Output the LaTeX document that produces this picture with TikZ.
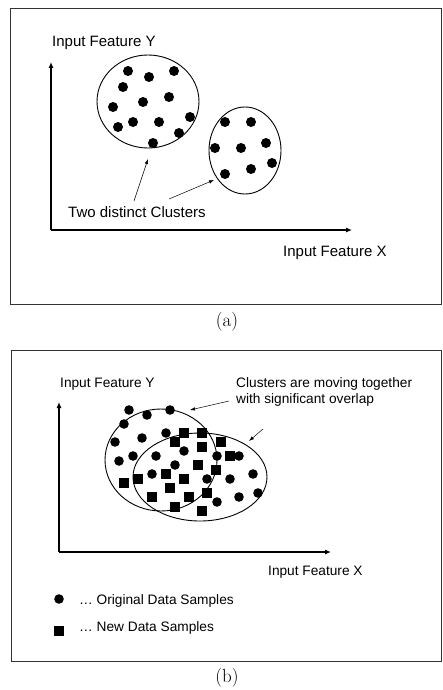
\documentclass[tikz,border=0pt]{standalone}
\usepackage{fontspec}
\setmainfont{Liberation Sans}
\newfontfamily\capfont{Latin Modern Roman}
\usetikzlibrary{arrows.meta}
\begin{document}
\begin{tikzpicture}[x=1pt,y=-1pt,
  frame/.style={draw=black!80,line width=1pt},
  axis/.style={line width=1.1pt,-{Latex[length=6pt,width=5pt]}},
  note/.style={line width=0.5pt,-{Latex[length=5pt,width=3.5pt]}},
  clus/.style={draw,line width=0.9pt},
  dotA/.style={fill=black},
  txtA/.style={font=\fontsize{15}{17}\selectfont,inner sep=0pt},
  txtB/.style={font=\fontsize{13.7}{16}\selectfont,inner sep=0pt},
  capt/.style={font=\capfont\fontsize{19}{22}\selectfont,inner sep=0pt}]
\useasboundingbox (0,0) rectangle (442,690);
% ---------- panel (a)
\draw[frame] (10,9) rectangle (441,304);
\node[capt] (capa) at (227,322) {(a)};
\coordinate (oa) at (51,230);
\coordinate (ya) at (51,62);
\coordinate (xa) at (352,230);
\draw[axis] (oa) -- (ya);
\draw[axis] (oa) -- (xa);
\node[txtA,anchor=west] (lya) at (52,43) {Input Feature Y};
\node[txtA,anchor=west] (lxa) at (283,253) {Input Feature X};
\draw[clus] (148,101.5) ellipse [x radius=51,y radius=46.5];
\draw[clus] (245,150.5) ellipse [x radius=36,y radius=43.5];
\foreach \p in {(128,71),(149,77),(174,71),(123,87),(169,97),(143,102),(113,107),(190,117),(133,122),(159,122),(118,127),(179,133),(153,143),
                (225,122),(251,122),(266,143),(215,148),(241,148),(272,163),(225,174),(251,169)}
  \fill[dotA] \p circle (5);
\node[txtA,anchor=west] (two) at (68,212) {Two distinct Clusters};
\coordinate (a1s) at (134,201);
\coordinate (a1e) at (148,159);
\coordinate (a2s) at (169,199);
\coordinate (a2e) at (214,180);
\draw[note] (a1s) -- (a1e);
\draw[note] (a2s) -- (a2e);
% ---------- panel (b)
\draw[frame] (11,350) rectangle (441,661);
\node[capt] (capb) at (227,678) {(b)};
\coordinate (ob) at (59,552);
\coordinate (yb) at (59,402);
\coordinate (xb) at (331,552);
\draw[axis] (ob) -- (yb);
\draw[axis] (ob) -- (xb);
\node[txtB,anchor=west] (lyb) at (60,384) {Input Feature Y};
\node[txtB,anchor=west] (lxb) at (268,572) {Input Feature X};
\node[txtB,anchor=north west,align=left] (mov) at (236,377) {Clusters are moving together\\with significant overlap};
\draw[clus] (161,460) ellipse [x radius=56,y radius=51];
\draw[clus] (200,477) ellipse [x radius=67,y radius=44];
\foreach \p in {(129,410),(147,415),(170,410),(124,424),(115,442),(142,438),(166,433),(119,461),(133,456),(184,451),(156,456),(175,465),(217,456),(239,456),(152,474),(207,479),(230,479),(253,474),(217,502),(239,497),(258,493)}
  \fill[dotA] \p circle (4.8);
\foreach \x/\y in {184/433,202/433,175/442,202/447,221/442,230/456,198/465,216/470,166/474,184/479,138/479,124/483,170/488,207/493,152/497,189/497,175/507,202/511}
  \fill[dotA] (\x-4.7,\y-4.7) rectangle (\x+4.7,\y+4.7);
\coordinate (b1s) at (229,401);
\coordinate (b1e) at (190,410);
\coordinate (b2s) at (263,429);
\coordinate (b2e) at (249,441);
\draw[note] (b1s) -- (b1e);
\draw[note] (b2s) -- (b2e);
% legend
\fill[dotA] (59,599) circle (4.8);
\fill[dotA] (54.3,626.3) rectangle (63.7,635.7);
\node[txtB,anchor=west] (lg1) at (79,601) {… Original Data Samples};
\node[txtB,anchor=west] (lg2) at (79,628) {… New Data Samples};
\end{tikzpicture}
\end{document}
